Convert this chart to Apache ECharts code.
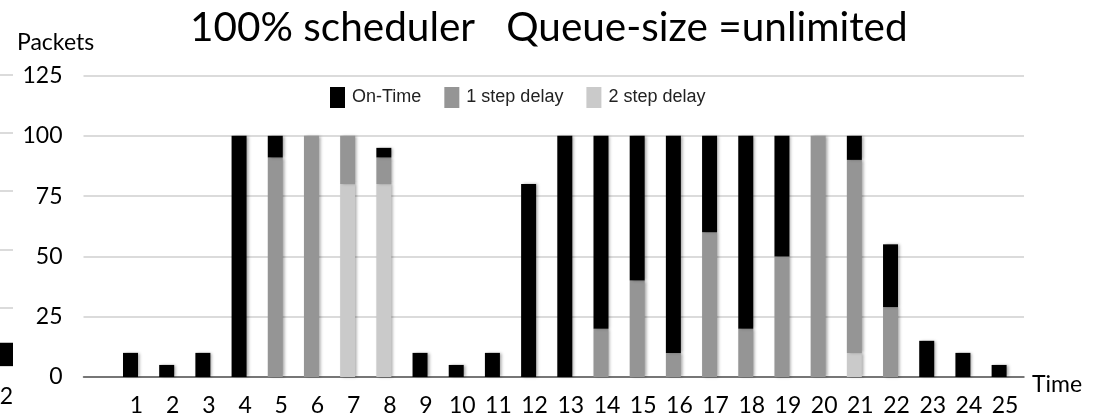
<!DOCTYPE html>
<html lang="en">
<head>
  <meta charset="UTF-8">
  <title>100% scheduler</title>
  <script src="https://cdn.jsdelivr.net/npm/echarts@6/dist/echarts.min.js"></script>
  <style>
    html, body { margin: 0; padding: 0; background: #fff; }
    #main { width: 1103px; height: 419px; }
  </style>
</head>
<body>
<div id="main"></div>
<script>
  // time slots 1..25
  var times = ['1','2','3','4','5','6','7','8','9','10','11','12','13','14','15','16','17','18','19','20','21','22','23','24','25'];
  // stacked from the bottom: 2 step delay, 1 step delay, on-time
  var twoStep = [0, 0, 0, 0, 0, 0, 80, 80, 0, 0, 0, 0, 0, 0, 0, 0, 0, 0, 0, 0, 10, 0, 0, 0, 0];
  var oneStep = [0, 0, 0, 0, 91, 100, 20, 11, 0, 0, 0, 0, 0, 20, 40, 10, 60, 20, 50, 100, 80, 29, 0, 0, 0];
  var onTime  = [10, 5, 10, 100, 9, 0, 0, 4, 10, 5, 10, 80, 100, 80, 60, 90, 40, 80, 50, 0, 10, 26, 15, 10, 5];
  var yTicks = [0, 25, 50, 75, 100, 125];
  // cut-off edge of the neighbouring chart on the left
  var prevTimes = ['2'];
  var prevOnTime = [10];

  var chartDom = document.getElementById('main');
  var myChart = echarts.init(chartDom);

  var gill = 'Lato, "Open Sans", sans-serif';
  var shadow = { shadowBlur: 3, shadowColor: 'rgba(0,0,0,0.35)', shadowOffsetX: 2 };

  function barSeries(name, data, color) {
    return {
      name: name,
      type: 'bar',
      stack: 'total',
      xAxisIndex: 1,
      yAxisIndex: 1,
      barWidth: 15,
      data: data,
      itemStyle: Object.assign({ color: color }, shadow)
    };
  }

  var option = {
    animation: false,
    backgroundColor: '#fff',
    title: [
      {
        text: '100% scheduler   Queue-size =unlimited',
        left: 185,
        top: 2,
        textStyle: { fontFamily: gill, fontSize: 40.5, fontWeight: 'normal', color: '#000' }
      },
      {
        text: 'Packets',
        left: 12,
        top: 26,
        textStyle: { fontFamily: gill, fontSize: 23, fontWeight: 'normal', color: '#000' }
      }
    ],
    legend: {
      left: 325,
      top: 82,
      itemWidth: 15,
      itemHeight: 21,
      itemGap: 23,
      icon: 'rect',
      textStyle: { fontFamily: '"Liberation Sans", Arial, sans-serif', fontSize: 18, color: '#222', padding: [0, 0, 0, 2] },
      data: ['On-Time', '1 step delay', '2 step delay']
    },
    grid: [
      { left: 83.5, right: 79, top: 75.5, bottom: 42, outerBoundsMode: 'none' },
      { left: 112.4, width: 904.8, top: 75.5, bottom: 42, outerBoundsMode: 'none' },
      { left: -20, width: 33, top: 74.7, bottom: 53, outerBoundsMode: 'none' }
    ],
    xAxis: [
      {
        gridIndex: 0,
        type: 'category',
        data: [''],
        axisLine: { lineStyle: { color: '#555', width: 1.5 } },
        axisTick: { show: false },
        axisLabel: { show: false },
        name: 'Time',
        nameGap: 8,
        nameTextStyle: { fontFamily: gill, fontSize: 23, color: '#000', verticalAlign: 'top', padding: [-4, 0, 0, 0] }
      },
      {
        gridIndex: 1,
        type: 'category',
        data: times,
        axisLine: { show: false },
        axisTick: { show: false },
        axisLabel: { fontFamily: gill, fontSize: 23, color: '#000', margin: 17, padding: [0, 0, 0, 12] }
      },
      {
        gridIndex: 2,
        type: 'category',
        data: prevTimes,
        axisLine: { show: false },
        axisTick: { show: false },
        axisLabel: { fontFamily: gill, fontSize: 23, color: '#000', margin: 19, padding: [0, 0, 0, 20] }
      }
    ],
    yAxis: [
      {
        gridIndex: 0,
        type: 'value',
        min: yTicks[0],
        max: yTicks[yTicks.length - 1],
        interval: 25,
        axisLine: { show: false },
        axisTick: { show: false },
        axisLabel: { fontFamily: gill, fontSize: 23, color: '#000', margin: 21 },
        splitLine: { lineStyle: { color: '#cfcfcf', width: 1.5 } }
      },
      {
        gridIndex: 1,
        type: 'value',
        min: yTicks[0],
        max: yTicks[yTicks.length - 1],
        interval: 25,
        show: false
      },
      {
        gridIndex: 2,
        type: 'value',
        min: yTicks[0],
        max: yTicks[yTicks.length - 1],
        interval: 25,
        axisLine: { show: false },
        axisTick: { show: false },
        axisLabel: { show: false },
        splitLine: { lineStyle: { color: '#cfcfcf', width: 1.5 } }
      }
    ],
    series: [
      barSeries('2 step delay', twoStep, '#cacaca'),
      barSeries('1 step delay', oneStep, '#959595'),
      barSeries('On-Time', onTime, '#000'),
      {
        name: 'prev',
        type: 'bar',
        xAxisIndex: 2,
        yAxisIndex: 2,
        barWidth: 33,
        data: prevOnTime,
        itemStyle: { color: '#000' }
      }
    ]
  };

  option && myChart.setOption(option);
</script>
</body>
</html>
